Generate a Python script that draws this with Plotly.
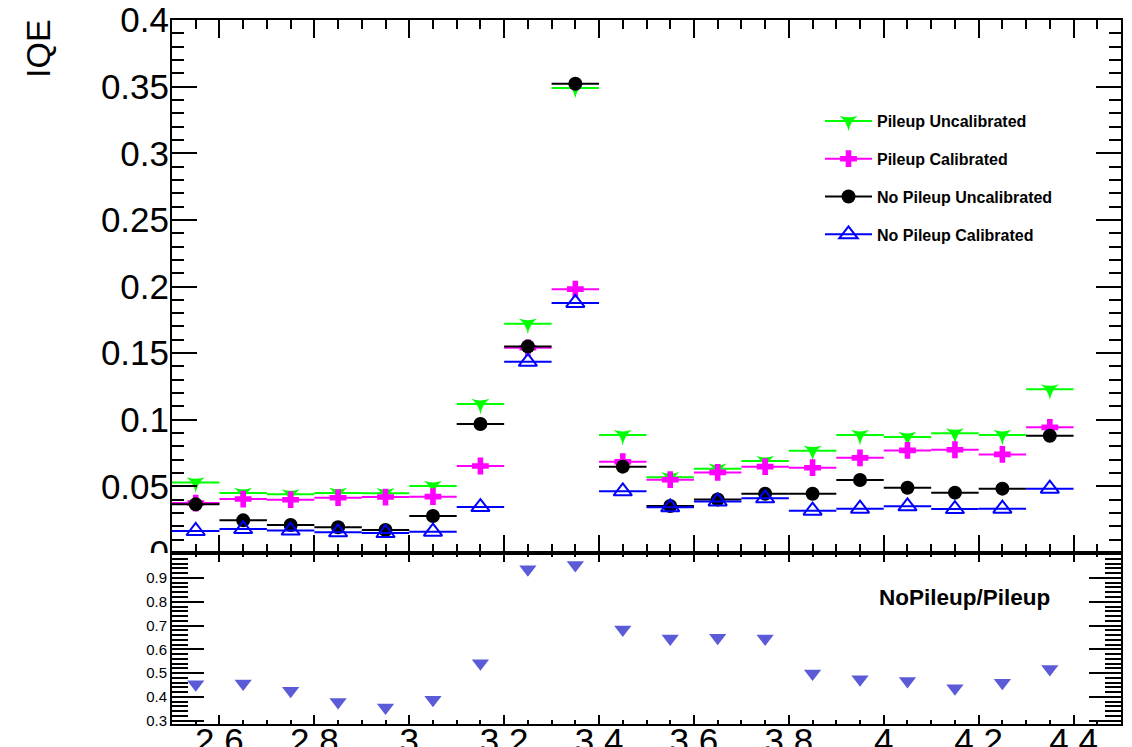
import plotly.graph_objects as go

# ---------------- data ----------------
bin_centers = [2.55, 2.65, 2.75, 2.85, 2.95, 3.05, 3.15, 3.25, 3.35, 3.45,
               3.55, 3.65, 3.75, 3.85, 3.95, 4.05, 4.15, 4.25, 4.35]
bin_half_width = [0.05] * len(bin_centers)

pileup_uncalibrated = [0.0530, 0.0450, 0.0440, 0.0450, 0.0448, 0.0503, 0.1118, 0.1720, 0.3490, 0.0885,
                       0.0568, 0.0633, 0.0690, 0.0768, 0.0885, 0.0870, 0.0898, 0.0885, 0.1228]
pileup_calibrated = [0.0375, 0.0405, 0.0400, 0.0415, 0.0420, 0.0423, 0.0653, 0.1540, 0.1980, 0.0685,
                     0.0550, 0.0605, 0.0648, 0.0640, 0.0714, 0.0770, 0.0775, 0.0740, 0.0943]
nopileup_uncalibrated = [0.0365, 0.0245, 0.0210, 0.0193, 0.0173, 0.0278, 0.0968, 0.1550, 0.3522, 0.0648,
                         0.0353, 0.0402, 0.0445, 0.0445, 0.0548, 0.0490, 0.0453, 0.0483, 0.0880]
nopileup_calibrated = [0.0165, 0.0180, 0.0168, 0.0155, 0.0150, 0.0160, 0.0345, 0.1435, 0.1877, 0.0463,
                       0.0343, 0.0387, 0.0410, 0.0318, 0.0333, 0.0350, 0.0330, 0.0333, 0.0483]
ratio_nopileup_pileup = [0.453, 0.456, 0.426, 0.379, 0.355, 0.388, 0.541, 0.937, 0.955, 0.683,
                         0.646, 0.649, 0.646, 0.498, 0.474, 0.467, 0.436, 0.459, 0.517]

x_tickvals = [2.6, 2.8, 3.0, 3.2, 3.4, 3.6, 3.8, 4.0, 4.2, 4.4]
x_ticktext = ["2.6", "2.8", "3", "3.2", "3.4", "3.6", "3.8", "4", "4.2", "4.4"]
y_tickvals = [0, 0.05, 0.1, 0.15, 0.2, 0.25, 0.3, 0.35, 0.4]
y_ticktext = ["0", "0.05", "0.1", "0.15", "0.2", "0.25", "0.3", "0.35", "0.4"]
r_tickvals = [0.3, 0.4, 0.5, 0.6, 0.7, 0.8, 0.9]
r_ticktext = ["0.3", "0.4", "0.5", "0.6", "0.7", "0.8", "0.9"]

FONT = "Liberation Sans, Arial, Helvetica, sans-serif"
GREEN = "#00ff00"
MAGENTA = "#ff00ff"
BLACK = "#000000"
BLUE = "#0000ff"
RATIO = "#5b5bd8"

fig = go.Figure()


def ex(color):
    return dict(type="data", array=bin_half_width, visible=True, color=color,
                thickness=2, width=0)


series = [
    ("Pileup Uncalibrated", pileup_uncalibrated, GREEN, "star-triangle-down", 13, 0),
    ("Pileup Calibrated", pileup_calibrated, MAGENTA, "cross", 14, 0),
    ("No Pileup Uncalibrated", nopileup_uncalibrated, BLACK, "circle", 14, 0),
    ("No Pileup Calibrated", nopileup_calibrated, BLUE, "triangle-up-open", 16, 2),
]

for name, vals, color, sym, size, lw in series:
    fig.add_trace(go.Scatter(
        x=bin_centers, y=vals, mode="markers",
        error_x=ex(color),
        marker=dict(symbol=sym, size=size, color=color,
                    line=dict(color=color, width=lw)),
        showlegend=False, legendgroup=name, name=name,
        xaxis="x", yaxis="y", hoverinfo="skip"))
    # legend entry
    fig.add_trace(go.Scatter(
        x=[None], y=[None], mode="lines+markers",
        line=dict(color=color, width=2),
        marker=dict(symbol=sym, size=size, color=color,
                    line=dict(color=color, width=lw)),
        name=name, legendgroup=name, showlegend=True,
        xaxis="x", yaxis="y"))

fig.add_trace(go.Scatter(
    x=bin_centers, y=ratio_nopileup_pileup, mode="markers",
    marker=dict(symbol="triangle-down", size=15, color=RATIO, line=dict(width=0)),
    showlegend=False, xaxis="x2", yaxis="y2", hoverinfo="skip"))

# ---------------- layout ----------------
# the page body has an 8px default margin, so the figure is 8px smaller
OFF = 8
W, H = 1132 - OFF, 747 - OFF
# target plot frame in window pixels: x 172..1121, y 20..724 (pad split at 553)
ml, mr, mt, mb = 172 - OFF, 1132 - 1121, 20 - OFF, 747 - 724
plot_w = W - ml - mr
plot_h = H - mt - mb
split = (724 - 553) / plot_h


def px(x):
    return (x - 172) / plot_w


def py(y):
    return (724 - y) / plot_h


common_axis = dict(showline=True, linewidth=2, linecolor="black", mirror="ticks",
                   ticks="inside", tickcolor="black", tickwidth=2,
                   showgrid=False, zeroline=False, automargin=False,
                   ticklabeloverflow="allow")

fig.update_layout(
    width=W, height=H, autosize=False,
    margin=dict(l=ml, r=mr, t=mt, b=mb, pad=0, autoexpand=False),
    paper_bgcolor="white", plot_bgcolor="white",
    font=dict(family=FONT, color="black"),
    xaxis=dict(common_axis, domain=[0, 1], anchor="y", range=[2.5, 4.5],
               tickmode="array", tickvals=x_tickvals, ticktext=x_ticktext,
               showticklabels=False, ticklen=18,
               minor=dict(tickmode="linear", tick0=2.5, dtick=0.05, ticks="inside",
                          ticklen=9, tickwidth=2, tickcolor="black", showgrid=False)),
    yaxis=dict(common_axis, domain=[split, 1], anchor="x", range=[0, 0.4],
               tickmode="array", tickvals=y_tickvals, ticktext=y_ticktext,
               ticklen=25, tickfont=dict(size=35, family=FONT, color="black"),
               ticklabelstandoff=-6,
               minor=dict(tickmode="linear", tick0=0, dtick=0.01, ticks="inside",
                          ticklen=12, tickwidth=2, tickcolor="black", showgrid=False)),
    xaxis2=dict(common_axis, domain=[0, 1], anchor="y2", range=[2.5, 4.5],
                tickmode="array", tickvals=x_tickvals, ticktext=x_ticktext,
                ticklen=9, tickfont=dict(size=35, family=FONT, color="black"),
                ticklabelstandoff=-15,
                minor=dict(tickmode="linear", tick0=2.5, dtick=0.05, ticks="inside",
                           ticklen=4, tickwidth=2, tickcolor="black", showgrid=False)),
    yaxis2=dict(common_axis, domain=[0, split], anchor="x2", range=[0.286, 1.005],
                tickmode="array", tickvals=r_tickvals, ticktext=r_ticktext,
                ticklen=32, tickfont=dict(size=15, family=FONT, color="black"),
                minor=dict(tickmode="linear", tick0=0, dtick=0.02, ticks="inside",
                           ticklen=16, tickwidth=2, tickcolor="black", showgrid=False)),
    legend=dict(x=px(820), y=py(104),
                xanchor="left", yanchor="top", bgcolor="rgba(0,0,0,0)",
                borderwidth=0, itemwidth=47, tracegroupgap=14, traceorder="grouped",
                font=dict(family=FONT, size=16, color="black", weight="bold")),
    showlegend=True,
)

# white band hiding lower half of the "0" label, cut at the pad boundary
fig.add_shape(type="rect", xref="paper", yref="paper",
              x0=px(0), x1=px(169), y0=py(569), y1=split,
              fillcolor="white", line=dict(width=0), layer="above")

fig.add_annotation(text="IQE", xref="paper", yref="paper",
                   x=px(38), y=py(49),
                   xanchor="center", yanchor="middle", textangle=-90, showarrow=False,
                   font=dict(family=FONT, size=34, color="black"))
fig.add_annotation(text="NoPileup/Pileup", xref="paper", yref="paper",
                   x=px(877), y=py(597),
                   xanchor="left", yanchor="middle", showarrow=False,
                   font=dict(family=FONT, size=22.5, color="black", weight="bold"))

fig.write_html("out.html")
